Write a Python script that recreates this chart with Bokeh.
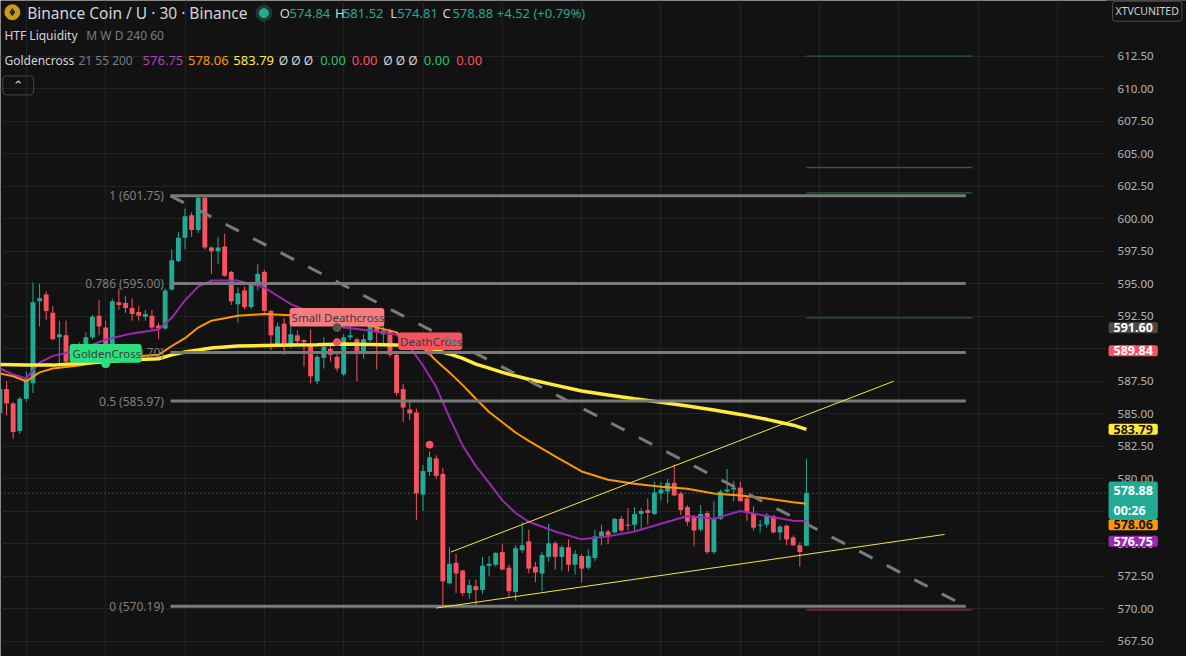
from bokeh.plotting import figure
from bokeh.models import Range1d, FixedTicker, PrintfTickFormatter, Label, Grid
from bokeh.embed import file_html
from bokeh.resources import INLINE
from bokeh.core.properties import value

# ---------------- data (30-minute candles) ----------------
opens = [585.02, 586.89, 585.77, 583.66, 586.14, 587.34, 593.65, 594.17, 592.75, 590.87,
         591.02, 589.59, 589.29, 589.97, 590.87, 592.52, 591.62, 590.27, 593.57, 593.50,
         593.12, 592.82, 592.45, 592.52, 591.77, 591.55, 594.55, 596.73, 598.53, 600.26,
         599.13, 601.61, 597.78, 597.48, 597.85, 595.90, 593.42, 594.47, 593.20, 594.85,
         595.90, 592.90, 590.35, 591.92, 590.27, 591.02, 590.65, 590.27, 587.49, 589.29,
         589.97, 589.37, 588.02, 590.87, 590.72, 589.74, 590.65, 592.00, 591.10, 591.40,
         589.52, 586.89, 585.32, 585.09, 578.78, 580.51, 581.56, 580.36, 571.95, 573.53,
         572.93, 571.20, 571.73, 571.43, 573.30, 573.38, 574.35, 573.15, 571.28, 574.50,
         575.18, 573.23, 572.70, 573.98, 575.03, 573.98, 574.73, 573.38, 574.05, 573.15,
         573.90, 575.56, 575.93, 575.86, 576.91, 576.46, 576.46, 577.28, 577.58, 577.28,
         578.86, 579.01, 579.68, 578.86, 577.81, 577.06, 576.08, 577.36, 574.35, 576.91,
         579.01, 579.16, 579.31, 578.48, 577.36, 576.38, 576.46, 577.13, 575.86, 576.38,
         575.48, 574.88, 574.84]
highs = [587.34, 587.49, 585.92, 586.29, 588.24, 595.08, 595.00, 594.40, 593.27, 592.15,
         592.15, 589.89, 590.50, 591.25, 592.60, 593.72, 592.15, 593.80, 594.62, 594.02,
         593.87, 593.27, 592.97, 592.97, 592.00, 594.62, 597.63, 598.98, 600.78, 600.48,
         601.75, 601.70, 597.85, 598.60, 598.83, 595.98, 594.70, 594.77, 595.15, 596.50,
         596.05, 592.97, 592.00, 592.37, 591.77, 591.40, 590.72, 591.47, 589.52, 590.87,
         590.35, 589.74, 591.10, 591.77, 590.87, 591.10, 592.15, 592.15, 591.77, 591.55,
         589.74, 587.27, 585.84, 585.39, 581.04, 582.09, 581.79, 580.81, 574.73, 574.20,
         573.00, 572.25, 572.25, 573.98, 574.05, 574.35, 574.95, 573.38, 574.88, 576.68,
         576.08, 573.60, 574.35, 576.53, 575.18, 574.88, 575.33, 574.50, 574.20, 574.58,
         576.08, 576.46, 576.08, 576.98, 577.13, 577.73, 577.81, 577.73, 578.48, 579.76,
         579.76, 579.98, 581.11, 579.01, 577.96, 577.21, 577.96, 577.51, 578.26, 579.16,
         580.74, 579.83, 579.76, 578.63, 577.88, 576.83, 577.36, 577.21, 576.46, 576.46,
         575.63, 575.11, 581.52]
lows = [584.64, 584.86, 583.06, 583.44, 585.92, 586.59, 591.70, 592.22, 590.65, 588.62,
        588.84, 588.84, 588.99, 589.59, 590.72, 591.02, 589.97, 590.12, 592.97, 592.75,
        592.15, 592.15, 592.15, 591.47, 590.72, 591.47, 594.47, 596.65, 597.63, 598.60,
        598.90, 597.63, 595.75, 596.50, 595.53, 593.35, 592.00, 593.05, 593.05, 594.47,
        592.60, 589.89, 590.12, 589.52, 590.05, 590.35, 588.62, 587.34, 587.27, 588.47,
        588.99, 588.24, 587.87, 590.65, 587.49, 589.22, 590.50, 588.39, 590.27, 589.37,
        586.37, 584.34, 584.49, 576.83, 577.51, 580.21, 579.98, 570.19, 571.88, 571.20,
        570.98, 570.75, 570.30, 571.13, 572.48, 573.23, 573.00, 570.90, 570.60, 574.28,
        572.70, 572.03, 571.35, 573.60, 573.00, 572.93, 572.85, 572.63, 572.03, 573.00,
        573.68, 574.88, 574.95, 575.78, 575.86, 576.01, 576.01, 576.08, 576.46, 577.21,
        578.33, 578.11, 578.63, 577.21, 576.38, 574.80, 575.93, 574.20, 574.20, 576.83,
        578.86, 578.26, 578.26, 576.76, 576.01, 575.86, 576.23, 575.78, 575.26, 574.88,
        574.80, 573.23, 574.81]
closes = [586.89, 585.77, 583.59, 586.14, 587.64, 593.57, 593.87, 592.90, 590.72, 591.10,
          588.99, 589.29, 589.89, 590.87, 592.45, 591.70, 590.27, 593.65, 593.35, 593.12,
          592.67, 592.52, 592.67, 591.62, 591.55, 594.47, 596.80, 598.53, 600.18, 599.13,
          601.61, 597.78, 597.48, 597.78, 595.60, 593.65, 594.25, 593.20, 595.00, 595.75,
          592.90, 591.02, 591.70, 590.35, 591.10, 590.57, 590.50, 587.87, 589.37, 590.12,
          589.52, 588.47, 590.87, 591.02, 589.74, 590.72, 592.00, 591.25, 591.40, 589.52,
          586.59, 585.47, 585.02, 578.86, 580.59, 581.64, 580.21, 572.10, 573.45, 572.70,
          571.20, 571.80, 571.43, 573.30, 573.45, 574.28, 573.00, 571.35, 574.65, 574.88,
          573.08, 572.78, 574.13, 575.03, 573.98, 574.73, 573.38, 574.20, 573.08, 574.05,
          575.56, 575.93, 575.63, 576.91, 576.01, 576.38, 577.28, 577.51, 577.36, 578.93,
          579.16, 579.68, 578.71, 577.58, 576.68, 576.01, 577.28, 574.35, 576.91, 579.01,
          579.16, 579.31, 578.26, 577.43, 576.23, 576.46, 577.21, 575.86, 576.31, 575.33,
          574.88, 574.36, 578.88]
bars = list(range(len(closes)))

# moving averages (Goldencross 21 / 55 / 200)
ma_bars = [0, 2, 4, 6, 8, 12, 16, 20, 24, 26, 28, 30, 32, 36, 40, 44, 48, 52, 56, 60, 62,
           64, 66, 68, 70, 72, 74, 76, 78, 80, 84, 88, 92, 96, 100, 104, 108, 112, 116, 120, 122]
ema21 = [588.47, 588.02, 587.72, 588.92, 589.44, 589.89, 590.70, 591.17, 591.47, 592.37, 593.72,
         594.77, 595.23, 595.23, 594.70, 593.42, 592.60, 591.62, 591.40, 591.06, 590.12,
         588.70, 587.04, 584.71, 582.54, 580.96, 579.68, 578.33, 577.36, 576.68, 575.93,
         575.33, 575.56, 575.93, 576.53, 577.13, 576.91, 577.51, 577.13, 576.76, 576.75]
ema55 = [588.09, 587.87, 587.49, 588.17, 588.47, 588.70, 589.05, 589.37, 589.52, 590.20, 590.80,
         591.62, 592.15, 592.52, 592.67, 592.56, 592.22, 591.92, 591.77, 591.25, 590.42,
         590.10, 589.07, 588.17, 587.19, 586.14, 585.13, 584.34, 583.55, 582.91, 581.71,
         580.55, 579.91, 579.61, 579.38, 579.23, 578.86, 578.71, 578.48, 578.18, 578.06]
ema200 = [588.77, 588.76, 588.73, 588.73, 588.73, 588.85, 588.98, 589.14, 589.22, 589.52, 589.74,
          589.89, 590.05, 590.20, 590.24, 590.27, 590.30, 590.35, 590.32, 590.27, 590.20,
          590.05, 589.85, 589.59, 589.25, 588.81, 588.50, 588.17, 587.90, 587.64, 587.19,
          586.74, 586.44, 586.14, 585.88, 585.58, 585.28, 584.94, 584.56, 584.11, 583.79]

price_ticks = [567.5, 570.0, 572.5, 575.0, 577.5, 580.0, 582.5, 585.0, 587.5, 590.0,
               592.5, 595.0, 597.5, 600.0, 602.5, 605.0, 607.5, 610.0, 612.5]
time_grid_bars = [4, 16, 28, 40, 52, 64, 76, 88, 100, 112, 124, 136, 148, 160]

# drawings
fib_levels = ["1", "0.786", "0.618", "0.5", "0"]
fib_prices = [601.75, 595.00, 589.70, 585.97, 570.19]
fib_bars = [25.8, 146.1]
trend_bars = [25.8, 146.1]
trend_prices = [601.75, 570.19]
chan_up_bars = [68.2, 135.2]
chan_up_prices = [574.35, 587.49]
chan_lo_bars = [66.0, 142.9]
chan_lo_prices = [570.05, 575.71]
htf_green = [612.49, 603.93, 601.98, 592.37]
htf_red = [569.92]
htf_bars = [122.0, 147.1]
last_price = closes[-1]
level_tag = 591.60
cross_tag = 589.84

# cross signals
golden_bar, golden_price = 16, 588.84
small_dc_bar, small_dc_price = 51, 591.62
dc_bar, dc_price = 65, 589.74
red_dot_bars = [51, 65]
red_dot_prices = [590.50, 582.61]

# ---------------- style ----------------
BG = "#121212"
GRID = "#222222"
TXT = "#D1D4DC"
GRAY = "#787B86"
UP = "#22AB94"
DN = "#F7525F"
PURPLE = "#9C27B0"
ORANGE = "#FF9800"
YELLOW = "#FFEB3B"
FONT = "Noto Sans"

# reference-pixel -> data helpers (used only to place texts / panes)
BAR_PX, BAR0_PX = 6.7, -0.6
UNIT_PX, Y570_PX = 13.32, 623.0
def bx(px):
    return (px - BAR0_PX) / BAR_PX
def py(pv):
    return 570.0 + (Y570_PX - pv) / UNIT_PX

PANE_RIGHT = 1121  # chart pane / price scale boundary (reference px)

p = figure(width=1186, height=656, output_backend="svg", toolbar_location=None, tools="",
           x_range=Range1d(bx(0), bx(1202)), y_range=Range1d(py(672), py(0)),
           x_axis_location=None, y_axis_location="right", min_border=0,
           background_fill_color=BG, border_fill_color=BG, outline_line_color=None)

ax = p.yaxis[0]
ax.fixed_location = bx(PANE_RIGHT)
ax.ticker = FixedTicker(ticks=price_ticks)
ax.formatter = PrintfTickFormatter(format="%.2f")
ax.axis_line_color = None
ax.major_tick_line_color = None
ax.minor_tick_line_color = None
ax.major_tick_out = 0
ax.major_tick_in = 0
ax.major_label_standoff = 11
ax.major_label_text_color = "#B2B5BE"
ax.major_label_text_font = FONT
ax.major_label_text_font_size = "11.5px"

for g in p.ygrid:
    g.ticker = FixedTicker(ticks=price_ticks)
    g.grid_line_color = GRID
for g in p.xgrid:
    g.visible = False
p.add_layout(Grid(dimension=0, ticker=FixedTicker(ticks=time_grid_bars), grid_line_color=GRID))

# candles
colors = [UP if c >= o else DN for o, c in zip(opens, closes)]
tops = [max(o, c) for o, c in zip(opens, closes)]
bots = [min(o, c) for o, c in zip(opens, closes)]
tops = [t if t - b >= 0.08 else b + 0.08 for t, b in zip(tops, bots)]
p.segment(x0=bars, y0=lows, x1=bars, y1=highs, color=colors, line_width=1)
p.vbar(x=bars, width=0.74, top=tops, bottom=bots, fill_color=colors, line_color=None)

# moving averages
p.line(ma_bars, ema21, color=PURPLE, line_width=2)
p.line(ma_bars, ema55, color=ORANGE, line_width=2)
p.line(ma_bars, ema200, color=YELLOW, line_width=3.5)

# fib texts (under the signal labels)
p.text(x=[fib_bars[0] - 1.0] * len(fib_prices), y=fib_prices,
       text=[f"{l} ({v:.2f})" for l, v in zip(fib_levels, fib_prices)],
       text_align="right", text_baseline="middle", text_color="#808080",
       text_font=value(FONT), text_font_size="12px")

# signal labels
p.quad(left=[bx(70), bx(293), bx(403)], right=[bx(143), bx(389), bx(468)],
       top=[py(352), py(315), py(340)], bottom=[py(371), py(334), py(358)],
       fill_color=["#2BDF7E", "#F77C80", "#F7525F"], line_color=None, border_radius=3)
p.text(x=[bx(73), bx(295), bx(405)], y=[py(361.5), py(324.5), py(349)],
       text=["GoldenCross", "Small Deathcross", "DeathCross"],
       text_align="left", text_baseline="middle", text_color="#3A3A3A",
       text_font=value(FONT), text_font_size="11.5px")
p.scatter([golden_bar], [golden_price], size=8, color="#2BDF7E")
p.scatter([small_dc_bar], [small_dc_price], size=8, color="#555555")
p.scatter([dc_bar], [dc_price], size=6, color=DN)
p.scatter(red_dot_bars, red_dot_prices, size=7, color=DN)

# fib lines and drawings
n = len(fib_prices)
p.segment(x0=[fib_bars[0]] * n, x1=[fib_bars[1]] * n, y0=fib_prices, y1=fib_prices,
          color="#7A7A7A", line_width=3)
p.line(trend_bars, trend_prices, color="#7A7A7A", line_width=3, line_dash="15 16")
p.line(chan_up_bars, chan_up_prices, color="#F5E642", line_width=1)
p.line(chan_lo_bars, chan_lo_prices, color="#F5E642", line_width=1)
p.segment(x0=[htf_bars[0]] * 4, x1=[htf_bars[1]] * 4, y0=htf_green, y1=htf_green,
          color="#2F5D36", line_width=1.3)
p.segment(x0=[htf_bars[0]], x1=[htf_bars[1]], y0=htf_red, y1=htf_red,
          color="#6B2A30", line_width=2)
# last price dotted line across the pane
p.segment(x0=[bx(0)], x1=[bx(PANE_RIGHT)], y0=[last_price], y1=[last_price],
          color=UP, line_dash="1 3", line_width=1)

# price-scale strip background (covers grid lines)
p.quad(left=[bx(PANE_RIGHT)], right=[bx(1210)], top=[py(-10)], bottom=[py(680)],
       fill_color=BG, line_color=None)

# header
p.scatter([bx(12)], [py(12)], size=15, color="#C99A1E")
p.scatter([bx(12)], [py(12)], size=7, marker="diamond", color="#2A2108")
p.scatter([bx(267)], [py(13)], size=16, color="#1C3934")
p.scatter([bx(267)], [py(13)], size=9, color=UP)

chg = closes[-1] - closes[-2]
pct = chg / closes[-2] * 100
header = [
    (27, 13, "Binance Coin / U · 30 · Binance", TXT, "15.5px"),
    (283, 13, "O", TXT, "13px"), (293, 13, f"{opens[-1]:.2f}", UP, "13px"),
    (339, 13, "H", TXT, "13px"), (347, 13, f"{highs[-1]:.2f}", UP, "13px"),
    (395, 13, "L", TXT, "13px"), (402, 13, f"{lows[-1]:.2f}", UP, "13px"),
    (448, 13, "C", TXT, "13px"), (458, 13, f"{closes[-1]:.2f}", UP, "13px"),
    (503, 13, f"{chg:+.2f} ({pct:+.2f}%)", UP, "13px"),
    (4, 36, "HTF Liquidity", TXT, "12px"), (87, 36, "M W D 240 60", GRAY, "12px"),
    (4, 61, "Goldencross", TXT, "12px"), (79, 61, "21 55 200", GRAY, "12px"),
    (144, 61, f"{ema21[-1]:.2f}", "#AB47BC", "13px"),
    (190, 61, f"{ema55[-1]:.2f}", ORANGE, "13px"),
    (236, 61, f"{ema200[-1]:.2f}", YELLOW, "13px"),
    (282, 61, "Ø Ø Ø", TXT, "12px"), (324, 61, "0.00", "#22C36E", "13px"),
    (356, 61, "0.00", DN, "13px"), (388, 61, "Ø Ø Ø", TXT, "12px"),
    (429, 61, "0.00", "#22C36E", "13px"), (462, 61, "0.00", DN, "13px"),
]
for hx, hy, t, c, s in header:
    p.add_layout(Label(x=bx(hx), y=py(hy), text=t, text_color=c, text_font=FONT,
                       text_font_size=s, text_align="left", text_baseline="middle"))

p.add_layout(Label(x=bx(18), y=py(87), text="⌃", text_color=TXT, text_font="DejaVu Sans",
                   text_font_size="13px", text_align="center", text_baseline="middle",
                   border_line_color="#434651", border_radius=4,
                   padding=dict(left=10, right=10, top=2, bottom=2)))

# axis tags
tags = [
    (level_tag, f"{level_tag:.2f}", "#4A4A4A", "#FFFFFF", 1),
    (cross_tag, f"{cross_tag:.2f}", DN, "#FFFFFF", 1),
    (ema200[-1], f"{ema200[-1]:.2f}", YELLOW, "#131313", 1),
    (py(512), f"{closes[-1]:.2f}\n00:26", UP, "#FFFFFF", 0),
    (py(537), f"{ema55[-1]:.2f}", ORANGE, "#131313", 1),
    (py(554), f"{ema21[-1]:.2f}", PURPLE, "#FFFFFF", 1),
]
for ty, t, bg, fg, pv in tags:
    p.add_layout(Label(x=bx(1123), y=ty, text=t, text_color=fg, text_font=FONT,
                       text_font_size="12.5px", text_font_style="bold",
                       text_align="left", text_baseline="middle",
                       background_fill_color=bg, border_radius=2,
                       padding=dict(left=5, right=5, top=pv, bottom=pv)))

p.add_layout(Label(x=bx(1127), y=py(11), text="XTVCUNITED", text_color=TXT, text_font=FONT,
                   text_font_size="10.5px", text_align="left", text_baseline="middle",
                   background_fill_color=BG, border_line_color="#4A4A4A", border_radius=3,
                   padding=dict(left=3, right=3, top=3, bottom=3)))

open("out.html", "w").write(file_html(p, INLINE))
